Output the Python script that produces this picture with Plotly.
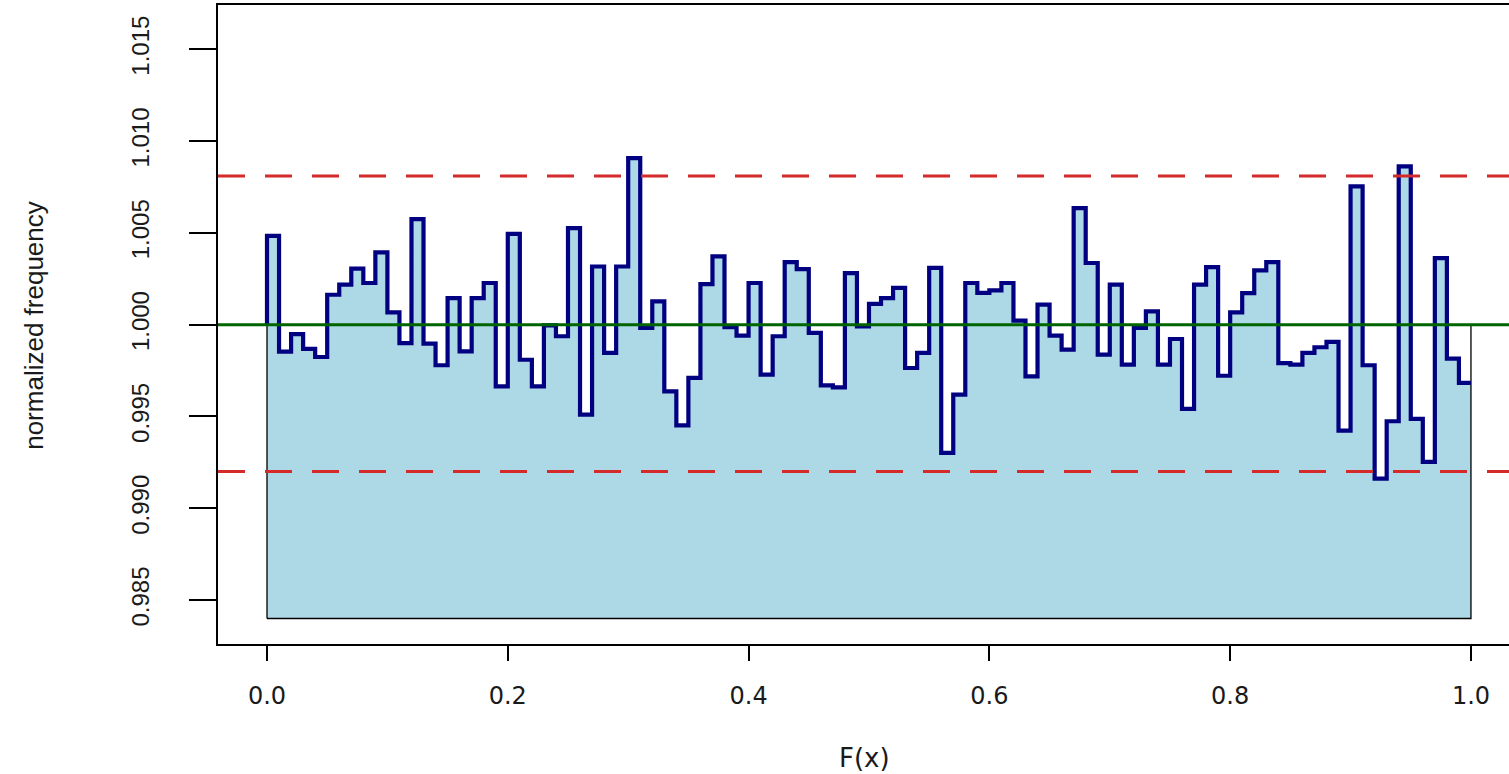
import plotly.graph_objects as go

# ---- data ----
bin_edges_start = [i / 100 for i in range(100)]
freq = [
    1.00484, 0.99853, 0.99949, 0.99868, 0.99824, 1.00163, 1.00218, 1.00305, 1.00227, 1.00394,
    1.00067, 0.99900, 1.00575, 0.99897, 0.99779, 1.00145, 0.99855, 1.00145, 1.00227, 0.99664,
    1.00495, 0.99809, 0.99664, 0.99996, 0.99937, 1.00526, 0.99510, 1.00317, 0.99846, 1.00317,
    1.00907, 0.99982, 1.00127, 0.99637, 0.99452, 0.99710, 1.00221, 1.00372, 0.99986, 0.99940,
    1.00227, 0.99728, 0.99937, 1.00341, 1.00303, 0.99955, 0.99670, 0.99659, 1.00281, 0.99991,
    1.00113, 1.00145, 1.00200, 0.99764, 0.99846, 1.00309, 0.99302, 0.99619, 1.00227, 1.00173,
    1.00187, 1.00227, 1.00022, 0.99719, 1.00109, 0.99940, 0.99864, 1.00635, 1.00336, 0.99837,
    1.00218, 0.99782, 0.99982, 1.00073, 0.99782, 0.99922, 0.99541, 1.00218, 1.00314, 0.99722,
    1.00067, 1.00172, 1.00296, 1.00341, 0.99791, 0.99782, 0.99846, 0.99877, 0.99906, 0.99423,
    1.00753, 0.99779, 0.99162, 0.99474, 1.00862, 0.99487, 0.99253, 1.00363, 0.99815, 0.99683,
]
reference_level = 1.0
upper_bound = 1.0081
lower_bound = 0.9920
fill_base = 0.984

x_ticks = [0.0, 0.2, 0.4, 0.6, 0.8, 1.0]
x_ticklabels = ["0.0", "0.2", "0.4", "0.6", "0.8", "1.0"]
y_ticks = [0.985, 0.990, 0.995, 1.000, 1.005, 1.010, 1.015]
y_ticklabels = ["0.985", "0.990", "0.995", "1.000", "1.005", "1.010", "1.015"]

FONT = "Liberation Sans, Arial, sans-serif"
WIDE_FONT = "DejaVu Sans, Liberation Sans, sans-serif"
TEXT_COLOR = "#1a1a1a"

# step path (hv) built from bin starts and values
step_x = [0.0] + bin_edges_start + [1.0]
step_y = [reference_level] + freq + [freq[-1]]

poly_x = [0.0] + step_x + [1.0, 1.0, 0.0]
poly_y = [fill_base] + step_y + [reference_level, fill_base, fill_base]

fig = go.Figure()
fig.add_trace(go.Scatter(
    x=poly_x, y=poly_y, mode="lines", line_shape="hv",
    fill="toself", fillcolor="#ADD8E6",
    line=dict(color="black", width=1.3), hoverinfo="skip", showlegend=False))
fig.add_trace(go.Scatter(
    x=step_x, y=step_y, mode="lines", line_shape="hv",
    line=dict(color="#000080", width=4.2), showlegend=False))

fig.add_hline(y=reference_level, line=dict(color="#006400", width=3))
fig.add_hline(y=upper_bound, line=dict(color="#D42A2A", width=3, dash="27px,20px"))
fig.add_hline(y=lower_bound, line=dict(color="#D42A2A", width=3, dash="27px,20px"))

fig.update_layout(
    width=1509, height=774, autosize=False,
    margin=dict(l=218, r=0, t=5, b=130, autoexpand=False),
    paper_bgcolor="white", plot_bgcolor="white",
    font=dict(family=FONT, color=TEXT_COLOR),
    showlegend=False,
    annotations=[
        dict(text="F(x)", xref="paper", yref="paper", x=0.5004, y=-0.1785,
             xanchor="center", yanchor="middle", showarrow=False,
             font=dict(size=26, family=WIDE_FONT, color=TEXT_COLOR)),
        dict(text="normalized frequency", xref="paper", yref="paper", x=-0.1425, y=0.498,
             xanchor="center", yanchor="middle", showarrow=False, textangle=-90,
             font=dict(size=26, family=FONT, color=TEXT_COLOR)),
    ],
)
fig.update_xaxes(
    range=[-0.0407, 1.0316], showgrid=False, zeroline=False,
    showline=True, linecolor="black", linewidth=2, mirror=True,
    ticks="outside", ticklen=15, tickwidth=1.5, tickcolor="black",
    tickvals=x_ticks, ticktext=x_ticklabels, ticklabelstandoff=14,
    tickfont=dict(size=24, family=WIDE_FONT, color=TEXT_COLOR),
)
fig.update_yaxes(
    range=[0.98261, 1.01741], showgrid=False, zeroline=False,
    showline=True, linecolor="black", linewidth=2, mirror=False,
    ticks="outside", ticklen=27, tickwidth=1.5, tickcolor="black",
    tickvals=y_ticks, ticktext=y_ticklabels, tickangle=-90, ticklabelstandoff=30,
    tickfont=dict(size=24, family=FONT, color=TEXT_COLOR),
)

fig.write_html("out.html")
